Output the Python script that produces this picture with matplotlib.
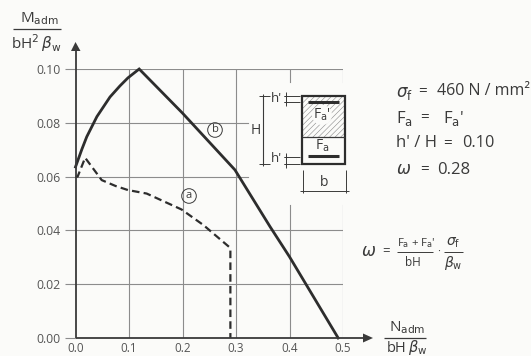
import matplotlib
matplotlib.use("Agg")
import matplotlib.pyplot as plt
from matplotlib.patches import Rectangle, Circle

W, H = 531, 356
INK = "#3a3a3a"
GRID = "#8c8c8c"
BG = "#fbfbf9"
plt.rcParams["font.family"] = ["Open Sans", "DejaVu Sans"]
plt.rcParams["mathtext.fontset"] = "dejavusans"
plt.rcParams["hatch.linewidth"] = 0.4

x_ticks = [0.0, 0.1, 0.2, 0.3, 0.4, 0.5]
y_ticks = [0.00, 0.02, 0.04, 0.06, 0.08, 0.10]
curve_b_n = [0.0, 0.0116, 0.021, 0.04, 0.0645, 0.083, 0.098, 0.119, 0.20, 0.298, 0.3636, 0.40, 0.491]
curve_b_m = [0.0636, 0.070, 0.0748, 0.0823, 0.0896, 0.0937, 0.0967, 0.100, 0.0836, 0.0625, 0.0414, 0.0302, 0.0]
curve_a_n = [0.0, 0.004, 0.018, 0.049, 0.075, 0.098, 0.133, 0.198, 0.239, 0.2875, 0.2895, 0.2895]
curve_a_m = [0.060, 0.060, 0.067, 0.0587, 0.0565, 0.055, 0.0537, 0.0478, 0.042, 0.0338, 0.0325, 0.0]

fig = plt.figure(figsize=(W / 100, H / 100), dpi=100, facecolor=BG)

# main plot: x 0..0.5 -> px 75.5..343, y 0..0.10 -> px 338..69
ax = fig.add_axes([75.5 / W, 1 - 338 / H, (343 - 75.5) / W, (338 - 69) / H])
ax.set_xlim(0, 0.5)
ax.set_ylim(0, 0.10)
ax.patch.set_alpha(0)
for s in ax.spines.values():
    s.set_visible(False)
ax.set_xticks(x_ticks, [f"{v:.1f}" for v in x_ticks])
ax.set_yticks(y_ticks, [f"{v:.2f}" for v in y_ticks])
ax.tick_params(axis="x", length=0, pad=3, labelsize=8.4, labelcolor="#555555")
ax.tick_params(axis="y", color=GRID, length=8, width=0.8, pad=3, labelsize=8.8, labelcolor="#555555")

# grid, interrupted around the cross-section sketch
for v in x_ticks[1:4]:
    ax.plot([v, v], [0, 0.10], color=GRID, lw=0.8, zorder=1)
for v in x_ticks[4:]:
    ax.plot([v, v], [0, 0.0495], color=GRID, lw=0.8, zorder=1)
    ax.plot([v, v], [0.095, 0.10], color=GRID, lw=0.8, zorder=1)
for v in [0.02, 0.04, 0.10]:
    ax.plot([0, 0.5], [v, v], color=GRID, lw=0.8, zorder=1)
for v in [0.06, 0.08]:
    ax.plot([0, 0.323], [v, v], color=GRID, lw=0.8, zorder=1)

ax.plot(curve_b_n, curve_b_m, color="#2d2d2d", lw=2.0, solid_joinstyle="miter", zorder=3, clip_on=False)
ax.plot(curve_a_n, curve_a_m, color="#2d2d2d", lw=1.6, dashes=(3.4, 1.9), zorder=3, clip_on=False)

# overlay in image pixels for axes arrows, sketch and formulas
ov = fig.add_axes([0, 0, 1, 1])
ov.set_xlim(0, W)
ov.set_ylim(H, 0)
ov.axis("off")
ov.patch.set_alpha(0)

def line(xs, ys, lw=0.8, c=INK):
    ov.plot(xs, ys, color=c, lw=lw, solid_capstyle="butt")

def txt(x, y, s, size=9, ha="center", va="center", c=INK):
    ov.text(x, y, s, fontsize=size, ha=ha, va=va, color=c)

# axes with arrow heads
line([75.5, 75.5], [338, 50], lw=1.3)
line([75.5, 365], [338, 338], lw=1.3)
ov.fill([75.5, 71, 80.5], [42, 51, 51], color=INK, lw=0)
ov.fill([373, 363, 363], [338, 333.5, 342.5], color=INK, lw=0)

# axis titles
txt(39, 19, r"M$_{\mathrm{adm}}$", 11)
line([13, 61], [29, 29], lw=0.9)
txt(36, 43, r"bH$^{2}\,\beta_{\mathrm{w}}$", 11)
txt(407, 328, r"N$_{\mathrm{adm}}$", 11)
line([384, 426], [337.5, 337.5], lw=0.9)
txt(407, 347.5, r"bH$\,\beta_{\mathrm{w}}$", 10.5)

# curve labels
for (cx, cy, s) in [(215, 130, "b"), (189, 196, "a")]:
    ov.add_patch(Circle((cx, cy), 7.3, fill=False, ec=INK, lw=0.7))
    txt(cx, cy - 0.5, s, 8)

# cross-section sketch
ov.add_patch(Rectangle((302, 96), 43, 41, fc="none", ec="#888888", hatch="//////", lw=0))
ov.add_patch(Circle((322, 115), 10, fc=BG, ec="none"))
ov.add_patch(Rectangle((302, 96), 43, 68, fc="none", ec="#2d2d2d", lw=1.6))
line([302, 345], [137, 137], lw=0.9)
line([308, 339], [102, 102], lw=2.2, c="#2d2d2d")
line([308, 339], [156, 156], lw=2.2, c="#2d2d2d")
txt(322, 115, "F$_{\\mathrm{a}}$'", 10)
txt(322, 146, "F$_{\\mathrm{a}}$", 10)

# dimensions
line([263, 263], [95, 165])
for yy in (96, 164):
    line([259, 270], [yy, yy], lw=0.7)
    line([284, 300], [yy, yy], lw=0.7)
line([284, 300], [102, 102], lw=0.7)
line([284, 300], [157, 157], lw=0.7)
line([286, 286], [92, 106], lw=0.7)
line([286, 286], [153, 168], lw=0.7)
for yy in (96, 102, 157, 164):
    ov.plot([286], [yy], "+", color=INK, ms=3.5, mew=0.7)
for yy in (96, 164):
    ov.plot([263], [yy], "+", color=INK, ms=3.5, mew=0.7)
txt(256, 130, "H", 10)
txt(276, 98, "h'", 9.5)
txt(276, 159, "h'", 9.5)
line([303, 303], [170, 193], lw=0.7)
line([346, 346], [170, 193], lw=0.7)
line([300, 349], [190.5, 190.5], lw=0.7)
txt(324, 182, "b", 10)

# parameters
txt(396, 93, r"$\sigma_{\mathrm{f}}$", 12, ha="left")
txt(423, 91, "=", 11)
txt(437, 91, "460 N / mm²", 11.5, ha="left")
txt(396, 118, r"F$_{\mathrm{a}}$", 12, ha="left")
txt(425, 118, "=", 11)
txt(443, 118, r"F$_{\mathrm{a}}$'", 12, ha="left")
txt(396, 143, "h' / H", 12, ha="left")
txt(448, 143, "=", 11)
txt(462, 143, "0.10", 11.7, ha="left")
txt(396, 170, r"$\omega$", 12, ha="left")
txt(425, 170, "=", 11)
txt(437, 170, "0.28", 12, ha="left")

# formula
txt(361, 252, r"$\omega$", 12, ha="left")
txt(386, 252, "=", 9.5)
txt(416, 243, r"F$_{\mathrm{a}}$ + F$_{\mathrm{a}}$'", 8.2)
line([397, 433], [252, 252], lw=0.7)
txt(413, 262, "bH", 8.5)
txt(439, 252, "·", 8)
txt(453, 243, r"$\sigma_{\mathrm{f}}$", 10)
line([444, 463], [252, 252], lw=0.7)
txt(453, 263, r"$\beta_{\mathrm{w}}$", 10)

fig.savefig("out.png", dpi=100, facecolor=BG)
